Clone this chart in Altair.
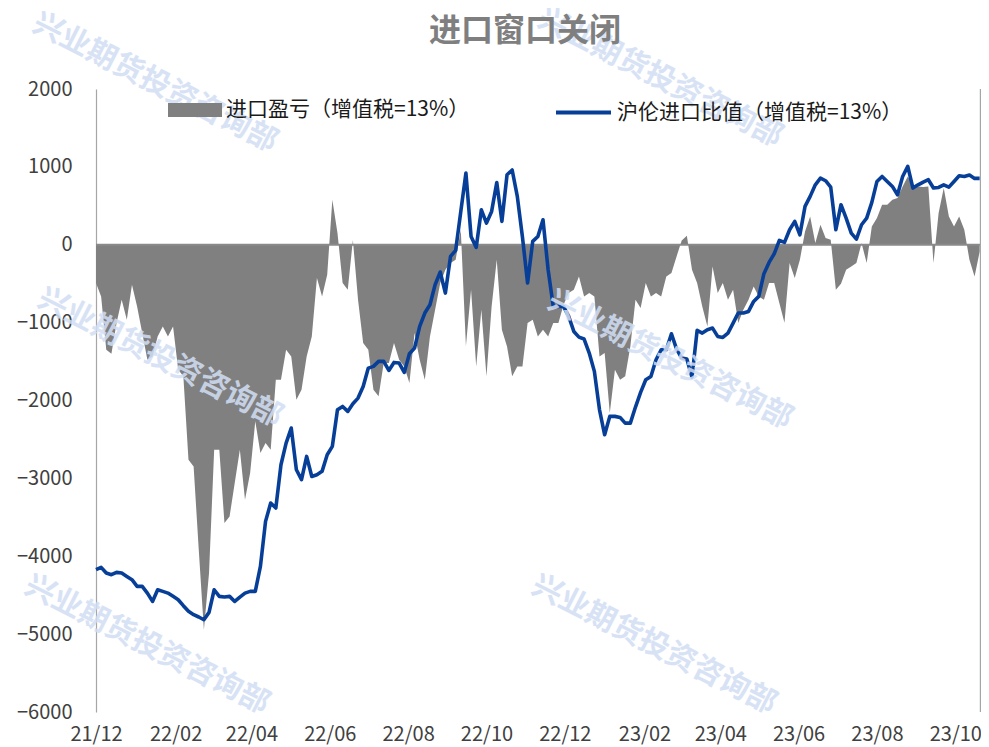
import altair as alt
import pandas as pd

FONT = "Noto Sans CJK SC"

# ---- data (one sample every 4 days) ----
start_date = "2021-12-01"
n_points = 173
dates = pd.date_range(start_date, periods=n_points, freq="4D")

pnl = [
    -492, -663, -1348, -1400, -1006, -706, -963, -514, -792, -1134,
    -1477, -1434, -1177, -1049, -1177, -1049, -1605, -1690, -2760, -2846,
    -3916, -4943, -4216, -2632, -2632, -3574, -3488, -3060, -2632, -3274,
    -2932, -2268, -2675, -2547, -2632, -1733, -1733, -1348, -1434, -1990,
    -1862, -1434, -1177, -428, -663, -385, 578, 150, -492, -578,
    60, -706, -1263, -1348, -1862, -1947, -1519, -1519, -1263, -1477,
    -1562, -1776, -1134, -1477, -1733, -1177, -835, -492, -321, -235,
    -193, 193, -1300, -578, -1562, -835, -1690, -792, -193, -1091,
    -1305, -1690, -1562, -1562, -1006, -963, -1177, -1091, -1177, -1006,
    -1006, -770, -621, -578, -407, -663, -621, -663, -1434, -1391,
    -2161, -1605, -1733, -1690, -1305, -706, -813, -492, -663, -621,
    -663, -407, -364, -150, 56, 116, -321, -492, -792, -1050,
    -278, -621, -492, -706, -578, -1006, -835, -706, -535, -663,
    -706, -492, -492, -749, -1000, -235, -428, -193, 171, 364,
    21, 257, 86, 64, -578, -500, -321, -278, -235, 21,
    -235, 235, 342, 514, 514, 578, 600, 749, 877, 770,
    749, 740, 749, -235, 407, 728, 364, 235, 364, 193,
    -193, -407, -86,
]

ratio = [
    -4173, -4143, -4216, -4237, -4207, -4216, -4259, -4301, -4387, -4387,
    -4473, -4580, -4430, -4451, -4473, -4515, -4558, -4635, -4707, -4750,
    -4780, -4815, -4721, -4430, -4515, -4524, -4515, -4580, -4524, -4473,
    -4451, -4451, -4130, -3552, -3317, -3381, -2825, -2547, -2354, -2889,
    -3017, -2718, -2975, -2953, -2910, -2696, -2589, -2119, -2076, -2140,
    -2042, -1969, -1819, -1584, -1562, -1498, -1498, -1614, -1511, -1519,
    -1639, -1400, -1327, -1049, -877, -770, -514, -350, -621, -150,
    -73, 428, 920, 107, -34, 449, 278, 428, 800, 300,
    899, 960, 621, 100, -492, 43, 107, 321, -321, -792,
    -792, -792, -920, -1113, -1186, -1211, -1391, -1626, -2119, -2440,
    -2204, -2204, -2217, -2290, -2290, -2084, -1896, -1733, -1691, -1477,
    -1348, -1348, -1143, -1340, -1455, -1468, -1700, -1100, -1134, -1091,
    -1070, -1177, -1190, -1134, -1006, -877, -877, -856, -728, -663,
    -372, -227, -116, 56, 30, 193, 300, 128, 492, 621,
    770, 856, 822, 740, 193, 514, 342, 150, 73, 257,
    342, 544, 813, 877, 813, 749, 642, 877, 1006, 728,
    770, 805, 835, 728, 736, 770, 740, 813, 886, 877,
    895, 852, 852,
]

tick_labels = ["21/12", "22/02", "22/04", "22/06", "22/08", "22/10",
               "22/12", "23/02", "23/04", "23/06", "23/08", "23/10"]
y_ticks = [2000, 1000, 0, -1000, -2000, -3000, -4000, -5000, -6000]

area_name = "进口盈亏（增值税=13%）"
line_name = "沪伦进口比值（增值税=13%）"
title_text = "进口窗口关闭"
watermark = "兴业期货投资咨询部"

df = pd.DataFrame({"date": dates, "pnl": pnl, "ratio": ratio,
                   "s1": area_name, "s2": line_name})
one = pd.DataFrame({"v": [0]})

tick_dates = [alt.DateTime(year=2000 + int(t[:2]), month=int(t[3:]), date=1)
              for t in tick_labels]

W, H = 885, 623

x_enc = alt.X(
    "date:T",
    scale=alt.Scale(domain=[alt.DateTime(year=2021, month=12, date=1),
                            alt.DateTime(year=2023, month=10, date=21)]),
    axis=alt.Axis(values=tick_dates, format="%y/%m", title=None, domain=False,
                  ticks=False, tickSize=0, grid=False, labelFontSize=20,
                  labelColor="#404040", labelPadding=12, labelFont=FONT,
                  labelFlush=False, labelOverlap=False),
)
y_scale = alt.Scale(domain=[-6000, 2000], nice=False, zero=False)

area = alt.Chart(df).mark_area(opacity=1, interpolate="linear").encode(
    x=x_enc,
    y=alt.Y("pnl:Q", scale=y_scale,
            axis=alt.Axis(values=y_ticks, format="d", title=None, grid=False,
                          ticks=False, tickSize=0, domainColor="#a6a6a6",
                          domainWidth=1.2, labelFontSize=20, labelColor="#404040",
                          labelPadding=24, labelFont=FONT)),
    y2=alt.datum(0),
    fill=alt.Fill("s1:N", scale=alt.Scale(domain=[area_name], range=["#808080"]),
                  legend=alt.Legend(orient="none", legendX=72, legendY=-6,
                                    title=None, padding=0, labelOffset=4,
                                    symbolType="M-1,-0.26L1,-0.26L1,0.26L-1,0.26Z",
                                    symbolSize=2916, symbolStrokeWidth=0,
                                    labelFontSize=21, labelFont=FONT,
                                    labelColor="#1a1a1a", labelLimit=600)),
)

zero_rule = alt.Chart(one).mark_rule(color="#8a8a8a", strokeWidth=2.2).encode(
    y=alt.Y("v:Q", scale=y_scale))

line = alt.Chart(df).mark_line(strokeWidth=3.6, strokeJoin="round").encode(
    x=x_enc,
    y=alt.Y("ratio:Q", scale=y_scale),
    stroke=alt.Stroke("s2:N", scale=alt.Scale(domain=[line_name], range=["#073f98"]),
                      legend=alt.Legend(orient="none", legendX=458, legendY=-6,
                                        title=None, padding=0, labelOffset=4,
                                        symbolType="stroke", symbolSize=3025,
                                        symbolStrokeWidth=4,
                                        labelFontSize=21, labelFont=FONT,
                                        labelColor="#1a1a1a", labelLimit=600)),
)

right_edge = alt.Chart(one).mark_rule(color="#a6a6a6", strokeWidth=1.2).encode(
    x=alt.value(W - 0.6), y=alt.value(0), y2=alt.value(H))

title = alt.Chart(one).mark_text(text=title_text, fontSize=32, font=FONT,
                                 fontWeight="bold", color="#7f7f7f",
                                 baseline="middle", align="center").encode(
    x=alt.value(429), y=alt.value(-58))

marks = [(59, -6), (564, -11), (64, 269), (574, 271), (51, 556), (558, 556)]
wm_layers = [
    alt.Chart(one).mark_text(text=watermark, angle=27, fontSize=30,
                             fontWeight="bold", font=FONT, color="#d2def4",
                             opacity=0.85).encode(x=alt.value(px), y=alt.value(py))
    for px, py in marks
]

chart = alt.layer(area, zero_rule, line, right_edge, *wm_layers, title).properties(
    width=W,
    height=H,
    autosize=alt.AutoSizeParams(type="none"),
    padding={"left": 88, "top": 81, "right": 0, "bottom": 33},
).configure_view(stroke=None)

chart.save("out.html", embed_options={"renderer": "svg", "actions": False})
